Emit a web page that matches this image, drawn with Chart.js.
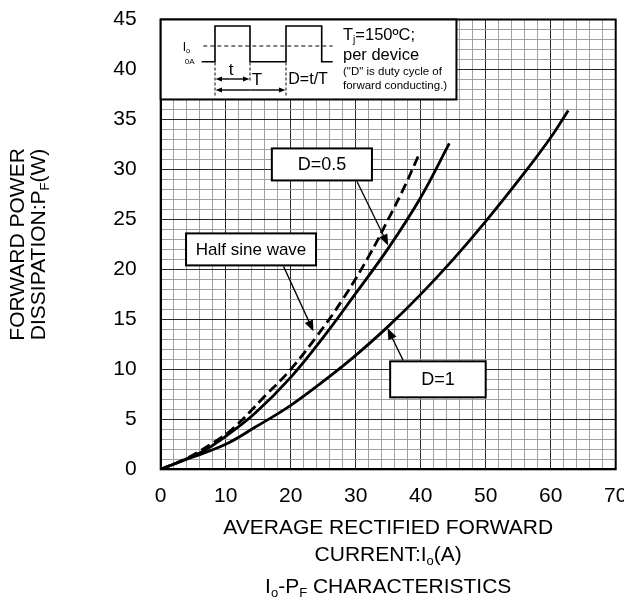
<!DOCTYPE html>
<html>
<head>
<meta charset="utf-8">
<script src="https://cdn.jsdelivr.net/npm/chart.js@4/dist/chart.umd.min.js"></script>
<style>body{margin:0;background:#fff}</style>
</head>
<body>
<canvas id="ioPfChart" width="624" height="600"></canvas>
<script>
// Io-PF CHARACTERISTICS
const d1Current = [0, 4, 10, 14.5, 20, 26, 30, 35, 40, 45, 50, 56, 60, 62.7];
const d1Power = [0, 1.0, 2.5, 4.2, 6.4, 9.3, 11.4, 14.3, 17.5, 21.0, 24.8, 29.7, 33.2, 35.9];

const d05Current = [0, 4, 6.8, 10, 14.5, 20, 25, 30, 35, 40, 44.4];
const d05Power = [0, 1.05, 1.9, 3.3, 5.6, 9.2, 13.2, 17.6, 22.1, 27.2, 32.6];

const sineCurrent = [0, 4, 8.4, 11, 16, 20, 24, 28, 32, 35, 37.6, 39.6];
const sinePower = [0, 1.1, 2.8, 4.0, 7.3, 10.0, 13.3, 17.0, 21.3, 25.0, 28.4, 31.3];

const xTickLabels = [0, 10, 20, 30, 40, 50, 60, 70];
const yTickLabels = [0, 5, 10, 15, 20, 25, 30, 35, 40, 45];

const FONT = '"Liberation Sans", Arial, sans-serif';
const MINOR = '#a0a0a0';
const MAJOR = '#2a2a2a';

function toPoints(xs, ys) {
    return xs.map((v, i) => ({ x: v, y: ys[i] }));
}

// text with subscripts: parts = [[text, isSub], ...]
function richWidth(ctx, parts, size) {
    let w = 0;
    parts.forEach(p => {
        ctx.font = (p[1] ? size * 0.62 : size) + 'px ' + FONT;
        w += ctx.measureText(p[0]).width;
    });
    return w;
}

function drawRich(ctx, parts, x, y, size, align) {
    const w = richWidth(ctx, parts, size);
    let cx = align === 'center' ? x - w / 2 : x;
    ctx.textAlign = 'left';
    ctx.textBaseline = 'middle';
    parts.forEach(p => {
        const s = p[1] ? size * 0.62 : size;
        ctx.font = s + 'px ' + FONT;
        ctx.fillText(p[0], cx, p[1] ? y + size * 0.3 : y);
        cx += ctx.measureText(p[0]).width;
    });
}

function arrow(ctx, x1, y1, x2, y2, head) {
    const ang = Math.atan2(y2 - y1, x2 - x1);
    ctx.beginPath();
    ctx.moveTo(x1, y1);
    ctx.lineTo(x2 - Math.cos(ang) * head * 0.8, y2 - Math.sin(ang) * head * 0.8);
    ctx.stroke();
    ctx.beginPath();
    ctx.moveTo(x2, y2);
    ctx.lineTo(x2 - head * Math.cos(ang - 0.38), y2 - head * Math.sin(ang - 0.38));
    ctx.lineTo(x2 - head * Math.cos(ang + 0.38), y2 - head * Math.sin(ang + 0.38));
    ctx.closePath();
    ctx.fill();
}

// callout boxes in data units: box corners, arrow start and tip
const callouts = [
    { text: 'D=0.5', size: 18, box: [17.1, 32.1, 32.5, 28.9], from: [30.2, 28.8], to: [35.0, 22.4] },
    { text: 'Half sine wave', size: 17, box: [3.9, 23.6, 23.9, 20.4], from: [18.9, 20.3], to: [23.5, 13.8] },
    { text: 'D=1', size: 18, box: [35.3, 10.8, 50.0, 7.2], from: [37.3, 10.9], to: [34.9, 14.1] }
];

const decorPlugin = {
    id: 'decor',
    afterDatasetsDraw(chart) {
        const { ctx, chartArea: a, scales: { x, y } } = chart;
        ctx.save();
        ctx.fillStyle = '#000';
        ctx.strokeStyle = '#000';

        // frame
        ctx.lineWidth = 2;
        ctx.strokeRect(a.left, a.top, a.right - a.left, a.bottom - a.top);

        // inset with waveform
        const bx0 = x.getPixelForValue(0), by0 = y.getPixelForValue(45);
        const bx1 = x.getPixelForValue(45.5), by1 = y.getPixelForValue(37);
        ctx.fillStyle = '#fff';
        ctx.fillRect(bx0, by0, bx1 - bx0, by1 - by0);
        ctx.fillStyle = '#000';
        ctx.lineWidth = 2;
        ctx.strokeRect(bx0, by0, bx1 - bx0, by1 - by0);

        const X = v => bx0 + v, Y = v => by0 + v;
        ctx.lineWidth = 1.6;
        ctx.beginPath();
        ctx.moveTo(X(41), Y(42.2));
        ctx.lineTo(X(54.3), Y(42.2));
        ctx.lineTo(X(54.3), Y(6.5));
        ctx.lineTo(X(89.3), Y(6.5));
        ctx.lineTo(X(89.3), Y(42.2));
        ctx.lineTo(X(125.3), Y(42.2));
        ctx.lineTo(X(125.3), Y(6.5));
        ctx.lineTo(X(161), Y(6.5));
        ctx.lineTo(X(161), Y(42.2));
        ctx.lineTo(X(172), Y(42.2));
        ctx.stroke();

        ctx.lineWidth = 1;
        ctx.setLineDash([4, 3]);
        ctx.beginPath();
        ctx.moveTo(X(42.6), Y(26.5));
        ctx.lineTo(X(172), Y(26.5));
        ctx.stroke();
        ctx.setLineDash([3, 2]);
        ctx.beginPath();
        ctx.moveTo(X(54.3), Y(43)); ctx.lineTo(X(54.3), Y(76.5));
        ctx.moveTo(X(89.3), Y(43)); ctx.lineTo(X(89.3), Y(63));
        ctx.moveTo(X(125.3), Y(43)); ctx.lineTo(X(125.3), Y(76.5));
        ctx.stroke();
        ctx.setLineDash([]);

        ctx.lineWidth = 1.4;
        arrow(ctx, X(70), Y(59.5), X(54.8), Y(59.5), 7);
        arrow(ctx, X(70), Y(59.5), X(88.8), Y(59.5), 7);
        arrow(ctx, X(90), Y(70.5), X(54.8), Y(70.5), 7);
        arrow(ctx, X(90), Y(70.5), X(124.8), Y(70.5), 7);

        drawRich(ctx, [['t', false]], X(70.3), Y(51), 17, 'center');
        drawRich(ctx, [['T', false]], X(96.3), Y(60.5), 17, 'center');
        drawRich(ctx, [['D=t/T', false]], X(127.6), Y(60.5), 16, 'left');
        drawRich(ctx, [['I', false], ['o', true]], X(22), Y(28), 12, 'left');
        drawRich(ctx, [['0A', false]], X(24), Y(42), 8, 'left');

        drawRich(ctx, [['T', false], ['j', true], ['=150ºC;', false]], X(182.3), Y(15.5), 16.5, 'left');
        drawRich(ctx, [['per device', false]], X(182.3), Y(35.5), 16.5, 'left');
        drawRich(ctx, [['("D" is duty cycle of', false]], X(182.3), Y(52.2), 11.5, 'left');
        drawRich(ctx, [['forward conducting.)', false]], X(182.3), Y(66), 11.5, 'left');

        // callouts
        callouts.forEach(c => {
            const l = x.getPixelForValue(c.box[0]), t = y.getPixelForValue(c.box[1]);
            const r = x.getPixelForValue(c.box[2]), b = y.getPixelForValue(c.box[3]);
            ctx.lineWidth = 1.3;
            arrow(ctx, x.getPixelForValue(c.from[0]), y.getPixelForValue(c.from[1]),
                x.getPixelForValue(c.to[0]), y.getPixelForValue(c.to[1]), 12);
            ctx.fillStyle = '#fff';
            ctx.fillRect(l, t, r - l, b - t);
            ctx.fillStyle = '#000';
            ctx.lineWidth = 2;
            ctx.strokeRect(l, t, r - l, b - t);
            drawRich(ctx, [[c.text, false]], (l + r) / 2, (t + b) / 2 + 1, c.size, 'center');
        });

        // axis titles
        const mid = (a.left + a.right) / 2;
        drawRich(ctx, [['AVERAGE RECTIFIED FORWARD', false]], mid, 528, 21, 'center');
        drawRich(ctx, [['CURRENT:I', false], ['o', true], ['(A)', false]], mid, 555, 21, 'center');
        drawRich(ctx, [['I', false], ['o', true], ['-P', false], ['F', true], [' CHARACTERISTICS', false]], mid, 587, 21, 'center');

        ctx.translate(0, (a.top + a.bottom) / 2);
        ctx.rotate(-Math.PI / 2);
        drawRich(ctx, [['FORWARD POWER', false]], 0, 18, 21, 'center');
        drawRich(ctx, [['DISSIPATION:P', false], ['F', true], ['(W)', false]], 0, 39, 21, 'center');
        ctx.restore();
    }
};

const gridColor = c => (c.tick && (c.scale.axis === 'x' ? xTickLabels : yTickLabels).includes(c.tick.value)) ? MAJOR : MINOR;

const ctxPf = document.getElementById('ioPfChart').getContext('2d');
const ioPfChart = new Chart(ctxPf, {
    type: 'scatter',
    data: {
        datasets: [
            { label: 'D=1', data: toPoints(d1Current, d1Power) },
            { label: 'D=0.5', data: toPoints(d05Current, d05Power) },
            { label: 'Half sine wave', data: toPoints(sineCurrent, sinePower), borderDash: [10, 5] }
        ].map(ds => Object.assign({
            showLine: true,
            borderColor: '#000',
            borderWidth: 2.8,
            pointRadius: 0,
            tension: 0.4
        }, ds))
    },
    options: {
        responsive: false,
        animation: false,
        layout: { padding: { top: 19.5, right: 8.3, left: 0, bottom: 0 } },
        scales: {
            x: {
                type: 'linear',
                min: 0,
                max: 70,
                afterFit: s => { s.height = 130.7; s.paddingLeft = 0; s.paddingRight = 0; },
                ticks: {
                    stepSize: 2,
                    autoSkip: false,
                    maxRotation: 0,
                    padding: 14,
                    color: '#000',
                    font: { family: FONT, size: 21 },
                    callback: v => xTickLabels.includes(v) ? v : ''
                },
                grid: { color: gridColor, lineWidth: 1, drawTicks: false },
                border: { display: true, color: '#000', width: 2 }
            },
            y: {
                min: 0,
                max: 45,
                afterFit: s => { s.width = 160.7; s.paddingTop = 0; s.paddingBottom = 0; },
                ticks: {
                    stepSize: 1,
                    autoSkip: false,
                    padding: 24,
                    color: '#000',
                    font: { family: FONT, size: 21 },
                    callback: v => yTickLabels.includes(v) ? v : ''
                },
                grid: { color: gridColor, lineWidth: 1, drawTicks: false },
                border: { display: true, color: '#000', width: 2 }
            }
        },
        plugins: {
            legend: { display: false },
            tooltip: { enabled: false }
        }
    },
    plugins: [decorPlugin]
});
</script>
</body>
</html>
